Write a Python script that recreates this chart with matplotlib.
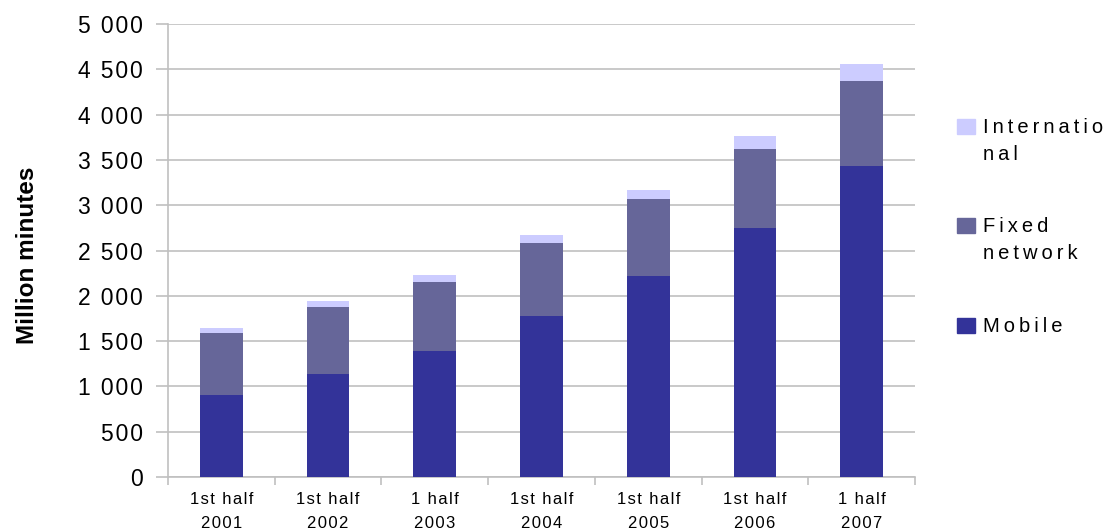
import numpy as np
import matplotlib
matplotlib.use("Agg")
import matplotlib.pyplot as plt
from matplotlib.patches import Rectangle
from matplotlib.ticker import FuncFormatter, MultipleLocator

plt.rcParams['font.family'] = ['Liberation Sans', 'DejaVu Sans']

# data (million minutes)
periods = ['1st half\n2001', '1st half\n2002', '1 half\n2003', '1st half\n2004',
           '1st half\n2005', '1st half\n2006', '1 half\n2007']
mobile = [908, 1139, 1393, 1779, 2220, 2750, 3434]
fixed = [684, 740, 761, 805, 850, 871, 937]
international = [55, 66, 77, 89, 99, 144, 188]

col_mobile = '#333399'
col_fixed = '#666699'
col_intl = '#ccccff'

THIN = '\u2009'
HAIR = '\u200a'


def track(s, sp):
    # spread letters out a bit, the original text is widely spaced
    return '\n'.join(sp.join(line) for line in s.split('\n'))


fig = plt.figure(figsize=(11.05, 5.32), dpi=100)
ax = fig.add_axes([168/1105, 1-477/532, (915-168)/1105, (477-24)/532])

x = np.arange(len(periods))
w = 0.4
b1 = ax.bar(x, mobile, w, color=col_mobile, zorder=3)
b2 = ax.bar(x, fixed, w, bottom=mobile, color=col_fixed, zorder=3)
bottom2 = np.array(mobile) + np.array(fixed)
b3 = ax.bar(x, international, w, bottom=bottom2, color=col_intl, zorder=3)

ax.set_xlim(-0.5, len(periods) - 0.5)
ax.set_ylim(0, 5000)
ax.yaxis.set_major_locator(MultipleLocator(500))
ax.yaxis.set_major_formatter(FuncFormatter(
    lambda v, p: track(f'{int(v):,}'.replace(',', ' '), HAIR)))
ax.grid(axis='y', color='#c0c0c0', linewidth=1.2, zorder=0)

for s in ['top', 'right']:
    ax.spines[s].set_visible(False)
for s in ['left', 'bottom']:
    ax.spines[s].set_color('#c0c0c0')
    ax.spines[s].set_linewidth(1.2)

ax.tick_params(axis='y', length=9, width=1.2, color='#c0c0c0', labelsize=16.5, pad=9,
               labelcolor='black')
ax.set_xticks(x)
ax.set_xticklabels([track(p, HAIR) for p in periods], fontsize=12, linespacing=1.75)
ax.set_xticks(np.arange(len(periods) + 1) - 0.5, minor=True)
ax.tick_params(axis='x', which='major', length=0, pad=11)
ax.tick_params(axis='x', which='minor', length=6, width=1.2, color='#c0c0c0')

fig.text(28/1105, 1-255/532, 'Million minutes', rotation=90, fontsize=17.5, fontweight='bold',
         ha='center', va='center')

# legend, square lined up with the first line of each label
legend_items = [('Internatio\nnal', col_intl, 126),
                ('Fixed\nnetwork', col_fixed, 225),
                ('Mobile', col_mobile, 325)]
for label, col, yc in legend_items:
    fig.add_artist(Rectangle((957/1105, 1-(yc+8)/532), 18/1105, 15/532,
                             transform=fig.transFigure, color=col))
    txt = track(label, THIN).split('\n')
    for i, line in enumerate(txt):
        fig.text(983/1105, 1-(yc+7+27*i)/532, line, fontsize=14.5, ha='left',
                 va='baseline')

fig.savefig('out.png', dpi=100)
